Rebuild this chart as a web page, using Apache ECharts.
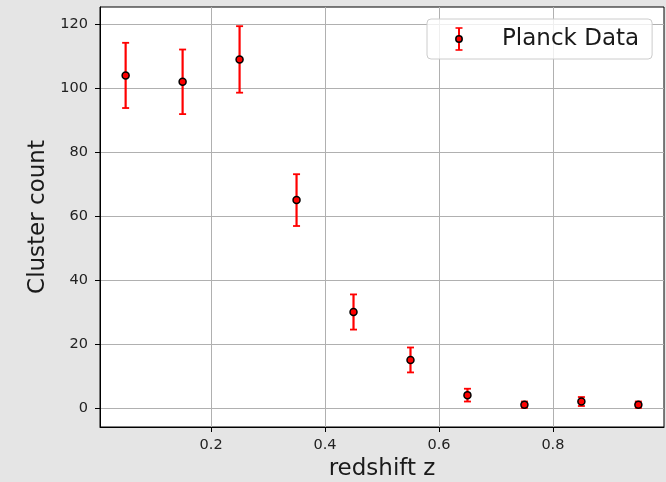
<!DOCTYPE html>
<html>
<head>
<meta charset="utf-8">
<script src="https://cdn.jsdelivr.net/npm/echarts@6/dist/echarts.min.js"></script>
<style>
  html, body { margin: 0; padding: 0; background: #e5e5e5; overflow: hidden; }
  #chart { width: 666px; height: 482px; }
</style>
</head>
<body>
<div id="chart"></div>
<script>
// Planck cluster counts per redshift bin
const redshift = [0.05, 0.15, 0.25, 0.35, 0.45, 0.55, 0.65, 0.75, 0.85, 0.95];
const clusterCount = [104, 102, 109, 65, 30, 15, 4, 1, 2, 1];
const countError = [10.2, 10.1, 10.4, 8.1, 5.5, 3.9, 2.0, 1.0, 1.4, 1.0];

const xTicks = [0.2, 0.4, 0.6, 0.8];
const yTicks = [0, 20, 40, 60, 80, 100, 120];

const xRange = [0.005, 0.995];
const yRange = [-5.97, 125.4];

const FONT = 'DejaVu Sans';
const RED = '#ff0000';

const points = redshift.map((z, i) => [z, clusterCount[i]]);
const bars = redshift.map((z, i) => [z, clusterCount[i], countError[i]]);

// legend glyph: error bar with a marker on top
const legendSvg =
  '<svg xmlns="http://www.w3.org/2000/svg" width="60" height="24" viewBox="0 0 60 24">' +
  '<line x1="22" y1="1" x2="22" y2="23" stroke="#ff0000" stroke-width="2"/>' +
  '<line x1="18.5" y1="1" x2="25.5" y2="1" stroke="#ff0000" stroke-width="1.6"/>' +
  '<line x1="18.5" y1="23" x2="25.5" y2="23" stroke="#ff0000" stroke-width="1.6"/>' +
  '<circle cx="22" cy="12" r="3.2" fill="#ff0000" stroke="#000" stroke-width="1.5"/>' +
  '</svg>';
const legendIcon = 'image://data:image/svg+xml;charset=utf-8,' + encodeURIComponent(legendSvg);

const chart = echarts.init(document.getElementById('chart'), null, { renderer: 'canvas' });

chart.setOption({
  backgroundColor: '#e5e5e5',
  animation: false,
  grid: {
    left: 100, right: 2, top: 7, bottom: 55,
    outerBoundsMode: 'none',
    containLabel: false,
    show: true, backgroundColor: '#ffffff', borderColor: '#000', borderWidth: 1
  },
  legend: {
    left: 427, top: 19,
    padding: [8, 13, 8, 10],
    itemWidth: 60, itemHeight: 24,
    backgroundColor: 'rgba(255,255,255,0.8)',
    borderColor: '#cccccc', borderWidth: 1, borderRadius: 4,
    textStyle: { fontFamily: FONT, fontSize: 23, color: '#1a1a1a', lineHeight: 24 },
    data: [{ name: 'Planck Data', icon: legendIcon }]
  },
  xAxis: {
    type: 'value',
    min: xRange[0], max: xRange[1],
    name: 'redshift z',
    nameLocation: 'middle',
    nameGap: 30,
    nameTextStyle: { fontFamily: FONT, fontSize: 23, color: '#1a1a1a' },
    axisLine: { show: true, onZero: false, lineStyle: { color: '#000', width: 1 } },
    axisTick: { show: true, length: 5, customValues: xTicks, lineStyle: { color: '#000', width: 1 } },
    axisLabel: {
      customValues: xTicks, margin: 11,
      fontFamily: FONT, fontSize: 14.5, color: '#222',
      formatter: v => v.toFixed(1)
    },
    splitLine: { show: true, lineStyle: { color: '#b0b0b0', width: 1 } }
  },
  yAxis: {
    type: 'value',
    min: yRange[0], max: yRange[1],
    name: 'Cluster count',
    nameLocation: 'middle',
    nameGap: 50,
    nameTextStyle: { fontFamily: FONT, fontSize: 23, color: '#1a1a1a' },
    axisLine: { show: true, onZero: false, lineStyle: { color: '#000', width: 1 } },
    axisTick: { show: true, length: 5, customValues: yTicks, lineStyle: { color: '#000', width: 1 } },
    axisLabel: {
      customValues: yTicks, margin: 12,
      fontFamily: FONT, fontSize: 14.5, color: '#222',
      formatter: v => String(Math.round(v))
    },
    splitLine: { show: true, lineStyle: { color: '#b0b0b0', width: 1 } }
  },
  series: [
    {
      type: 'custom',
      name: 'errorbars',
      data: bars,
      encode: { x: 0, y: 1 },
      z: 2,
      renderItem: (params, api) => {
        const z = api.value(0), y = api.value(1), e = api.value(2);
        const hi = api.coord([z, y + e]);
        const lo = api.coord([z, y - e]);
        const cap = 3.5;
        return {
          type: 'group',
          children: [
            { type: 'line', shape: { x1: hi[0], y1: hi[1], x2: lo[0], y2: lo[1] }, style: { stroke: RED, lineWidth: 2.2 } },
            { type: 'line', shape: { x1: hi[0] - cap, y1: hi[1], x2: hi[0] + cap, y2: hi[1] }, style: { stroke: RED, lineWidth: 1.8 } },
            { type: 'line', shape: { x1: lo[0] - cap, y1: lo[1], x2: lo[0] + cap, y2: lo[1] }, style: { stroke: RED, lineWidth: 1.8 } }
          ]
        };
      }
    },
    {
      type: 'scatter',
      name: 'Planck Data',
      data: points,
      z: 3,
      symbol: 'circle',
      symbolSize: 7,
      itemStyle: { color: RED, borderColor: '#000', borderWidth: 1.5, opacity: 1 }
    }
  ]
});
</script>
</body>
</html>
